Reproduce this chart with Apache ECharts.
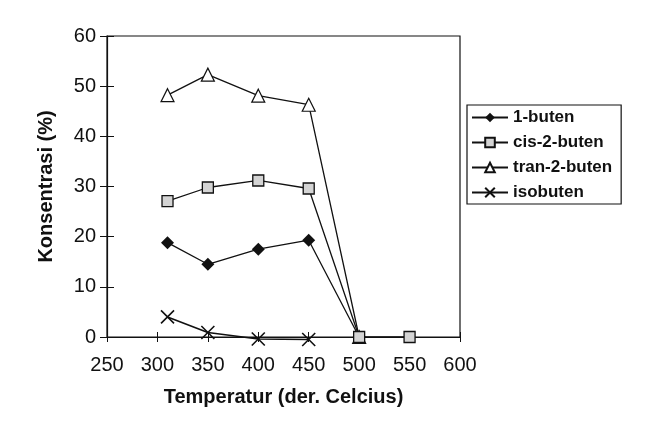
<!DOCTYPE html>
<html>
<head>
<meta charset="utf-8">
<script src="https://cdn.jsdelivr.net/npm/echarts@6/dist/echarts.min.js"></script>
<style>
html,body{margin:0;padding:0;background:#fff;}
#main{width:651px;height:430px;}
</style>
</head>
<body>
<div id="main"></div>
<script>
/*数据*/
var suhu = [310, 350, 400, 450, 500];
var suhuCis = [310, 350, 400, 450, 500, 550];
var buten1 = [18.8, 14.5, 17.5, 19.3, 0];
var cis2buten = [27.1, 29.8, 31.2, 29.6, 0, 0];
var tran2buten = [48.2, 52.3, 48.1, 46.3, 0];
var isobuten = [4.0, 0.9, -0.4, -0.5];
var namaSeri = ['1-buten', 'cis-2-buten', 'tran-2-buten', 'isobuten'];

function pasang(xs, ys){
	return ys.map(function(v, i){ return [xs[i], v]; });
}

var fontUtama = 'Liberation Sans, Arial, sans-serif';
var simbolX = 'path://M0,0L10,10M10,0L0,10';

var option = {
	backgroundColor: '#fff',
	animation: false,
	grid: {
		left: 107, right: 191, top: 36, bottom: 93,
		show: true,
		borderColor: '#111',
		borderWidth: 1.2
	},
	legend: {
		left: 467, top: 105,
		orient: 'vertical',
		data: namaSeri,
		itemWidth: 36,
		itemHeight: 12,
		itemGap: 8,
		padding: [4, 9, 3, 4],
		borderColor: '#111',
		borderWidth: 1.2,
		textStyle: {color: '#111', fontFamily: fontUtama, fontSize: 17, fontWeight: 'bold'}
	},
	xAxis: [
		{
			type: 'value', min: 250, max: 600, interval: 50,
			name: 'Temperatur (der. Celcius)',
			nameLocation: 'middle', nameGap: 50,
			nameTextStyle: {color: '#111', fontFamily: fontUtama, fontSize: 20, fontWeight: 'bold'},
			axisLine: {show: true, onZero: false, lineStyle: {color: '#111', width: 1.2}},
			axisTick: {show: true, length: 5, lineStyle: {color: '#111'}},
			axisLabel: {color: '#111', fontFamily: fontUtama, fontSize: 20, margin: 18},
			splitLine: {show: false}
		},
		{
			// 刻度朝内（交叉刻度）
			type: 'value', min: 250, max: 600, interval: 50, position: 'bottom', offset: 0,
			axisLine: {show: false},
			axisTick: {show: true, inside: true, length: 5, lineStyle: {color: '#111'}},
			axisLabel: {show: false},
			splitLine: {show: false}
		}
	],
	yAxis: [
		{
			type: 'value', min: 0, max: 60, interval: 10,
			name: 'Konsentrasi (%)',
			nameLocation: 'middle', nameGap: 51,
			nameTextStyle: {color: '#111', fontFamily: fontUtama, fontSize: 20, fontWeight: 'bold'},
			axisLine: {show: true, onZero: false, lineStyle: {color: '#111', width: 1.2}},
			axisTick: {show: true, length: 7, lineStyle: {color: '#111'}},
			axisLabel: {color: '#111', fontFamily: fontUtama, fontSize: 20, margin: 11},
			splitLine: {show: false}
		},
		{
			type: 'value', min: 0, max: 60, interval: 10, position: 'left', offset: 0,
			axisLine: {show: false},
			axisTick: {show: true, inside: true, length: 7, lineStyle: {color: '#111'}},
			axisLabel: {show: false},
			splitLine: {show: false}
		}
	],
	series: [
		{
			name: '1-buten', type: 'line',
			data: pasang(suhu, buten1),
			symbol: 'diamond', symbolSize: 13,
			itemStyle: {color: '#111'},
			lineStyle: {color: '#111', width: 1.3}
		},
		{
			name: 'cis-2-buten', type: 'line', z: 4,
			data: pasang(suhuCis, cis2buten),
			symbol: 'rect', symbolSize: 11,
			itemStyle: {color: '#d4d4d4', borderColor: '#111', borderWidth: 1.3},
			lineStyle: {color: '#111', width: 1.3}
		},
		{
			name: 'tran-2-buten', type: 'line',
			data: pasang(suhu, tran2buten),
			symbol: 'triangle', symbolSize: 13,
			itemStyle: {color: '#fff', borderColor: '#111', borderWidth: 1.2},
			lineStyle: {color: '#111', width: 1.3}
		},
		{
			name: 'isobuten', type: 'line', clip: false,
			data: pasang(suhu, isobuten),
			symbol: simbolX, symbolSize: 13, showAllSymbol: true,
			itemStyle: {color: '#111', borderColor: '#111', borderWidth: 1.6},
			lineStyle: {color: '#111', width: 1.6}
		}
	]
};

var chart = echarts.init(document.getElementById('main'));
chart.setOption(option);
</script>
</body>
</html>
